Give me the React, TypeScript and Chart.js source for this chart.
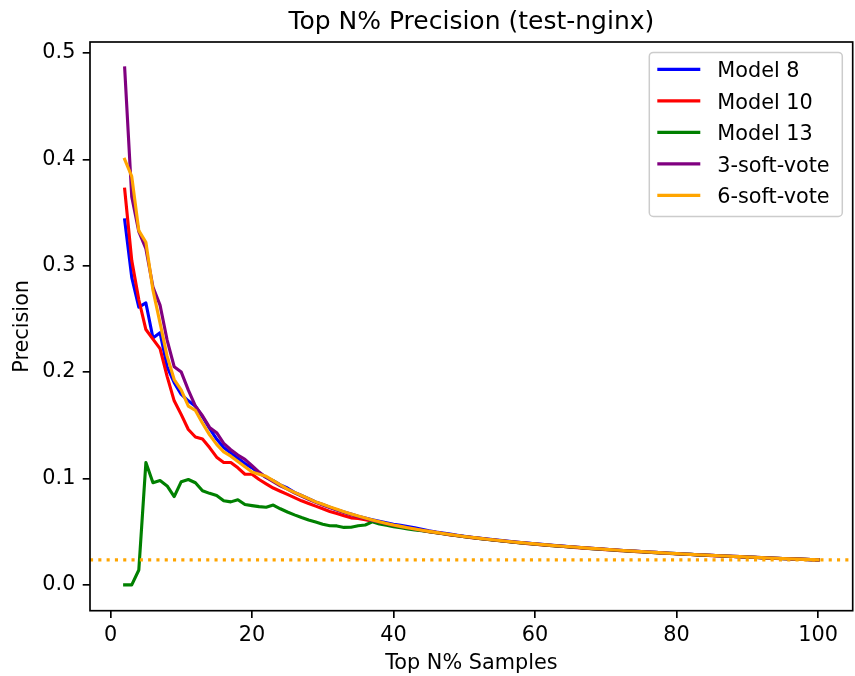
import React, { useEffect, useRef } from "react";
import { Chart, registerables } from "chart.js";

Chart.register(...registerables);

const TITLE = "Top N% Precision (test-nginx)";
const X_LABEL = "Top N% Samples";
const Y_LABEL = "Precision";

const topPercent = [
  2, 3, 4, 5, 6, 7, 8, 9, 10, 11, 12, 13, 14, 15, 16, 17, 18, 19, 20, 21,
  22, 23, 24, 25, 26, 27, 28, 29, 30, 31, 32, 33, 34, 35, 36, 37, 38, 39, 40, 41,
  42, 43, 44, 45, 46, 47, 48, 49, 50, 51, 52, 53, 54, 55, 56, 57, 58, 59, 60, 61,
  62, 63, 64, 65, 66, 67, 68, 69, 70, 71, 72, 73, 74, 75, 76, 77, 78, 79, 80, 81,
  82, 83, 84, 85, 86, 87, 88, 89, 90, 91, 92, 93, 94, 95, 96, 97, 98, 99, 100,
];

const model8 = [
  0.343, 0.289, 0.261, 0.265, 0.232, 0.237, 0.205, 0.190, 0.179, 0.173,
  0.168, 0.158, 0.147, 0.137, 0.129, 0.124, 0.119, 0.114, 0.110, 0.105,
  0.101, 0.098, 0.094, 0.091, 0.087, 0.084, 0.081, 0.078, 0.0755, 0.073,
  0.0705, 0.0685, 0.0665, 0.0645, 0.0628, 0.0612, 0.0597, 0.0583, 0.0570, 0.0559,
  0.0548, 0.0536, 0.0522, 0.0508, 0.0496, 0.0486, 0.0477, 0.0467, 0.0457, 0.0448,
  0.0440, 0.0432, 0.0425, 0.0418, 0.0411, 0.0404, 0.0398, 0.0392, 0.0386, 0.0380,
  0.0374, 0.0369, 0.0364, 0.0358, 0.0353, 0.0348, 0.0343, 0.0339, 0.0334, 0.0330,
  0.0325, 0.0321, 0.0317, 0.0313, 0.0309, 0.0305, 0.0301, 0.0297, 0.0294, 0.0290,
  0.0287, 0.0283, 0.0280, 0.0277, 0.0274, 0.0271, 0.0268, 0.0265, 0.0262, 0.0259,
  0.0256, 0.0253, 0.0250, 0.0248, 0.0245, 0.0242, 0.0240, 0.0237, 0.0235,
];

const model10 = [
  0.372, 0.305, 0.268, 0.240, 0.231, 0.222, 0.196, 0.173, 0.160, 0.146,
  0.139, 0.137, 0.129, 0.120, 0.115, 0.115, 0.110, 0.104, 0.104, 0.099,
  0.095, 0.091, 0.088, 0.085, 0.082, 0.079, 0.0765, 0.074, 0.0715, 0.069,
  0.067, 0.065, 0.063, 0.0625, 0.0612, 0.0598, 0.0585, 0.0572, 0.0558, 0.0546,
  0.0534, 0.0522, 0.0511, 0.0500, 0.0490, 0.0480, 0.0470, 0.0461, 0.0452, 0.0444,
  0.0436, 0.0428, 0.0421, 0.0414, 0.0407, 0.0400, 0.0394, 0.0388, 0.0382, 0.0376,
  0.0370, 0.0365, 0.0360, 0.0355, 0.0350, 0.0345, 0.0340, 0.0336, 0.0331, 0.0327,
  0.0322, 0.0318, 0.0314, 0.0310, 0.0306, 0.0302, 0.0299, 0.0295, 0.0292, 0.0288,
  0.0285, 0.0281, 0.0278, 0.0275, 0.0272, 0.0269, 0.0266, 0.0263, 0.0260, 0.0258,
  0.0255, 0.0252, 0.0249, 0.0247, 0.0244, 0.0242, 0.0239, 0.0237, 0.0235,
];

const model13 = [
  0.000, 0.000, 0.014, 0.115, 0.096, 0.098, 0.093, 0.083, 0.097, 0.099,
  0.096, 0.0885, 0.086, 0.084, 0.079, 0.078, 0.080, 0.0755, 0.0745, 0.0735,
  0.073, 0.075, 0.0715, 0.0685, 0.0658, 0.0633, 0.061, 0.059, 0.057, 0.0556,
  0.0554, 0.0540, 0.0542, 0.0556, 0.0563, 0.0592, 0.0572, 0.0560, 0.0547, 0.0536,
  0.0525, 0.0515, 0.0508, 0.0500, 0.0490, 0.0481, 0.0471, 0.0462, 0.0453, 0.0445,
  0.0437, 0.0429, 0.0422, 0.0415, 0.0408, 0.0401, 0.0395, 0.0389, 0.0383, 0.0377,
  0.0371, 0.0366, 0.0361, 0.0356, 0.0351, 0.0346, 0.0341, 0.0337, 0.0332, 0.0328,
  0.0323, 0.0319, 0.0315, 0.0311, 0.0307, 0.0303, 0.0300, 0.0296, 0.0293, 0.0289,
  0.0286, 0.0282, 0.0279, 0.0276, 0.0273, 0.0270, 0.0267, 0.0264, 0.0261, 0.0258,
  0.0255, 0.0252, 0.0250, 0.0247, 0.0245, 0.0242, 0.0240, 0.0237, 0.0235,
];

const softVote3 = [
  0.486, 0.365, 0.332, 0.316, 0.280, 0.263, 0.230, 0.205, 0.200, 0.183,
  0.168, 0.159, 0.148, 0.143, 0.133, 0.127, 0.122, 0.118, 0.112, 0.106,
  0.101, 0.097, 0.093, 0.090, 0.0865, 0.0835, 0.0805, 0.0775, 0.075, 0.0726,
  0.0703, 0.0681, 0.0660, 0.0641, 0.0623, 0.0606, 0.0590, 0.0575, 0.0561, 0.0549,
  0.0537, 0.0525, 0.0514, 0.0503, 0.0493, 0.0483, 0.0473, 0.0464, 0.0455, 0.0447,
  0.0439, 0.0431, 0.0424, 0.0417, 0.0410, 0.0403, 0.0397, 0.0391, 0.0385, 0.0379,
  0.0373, 0.0368, 0.0363, 0.0358, 0.0353, 0.0348, 0.0343, 0.0339, 0.0334, 0.0330,
  0.0325, 0.0321, 0.0317, 0.0313, 0.0309, 0.0305, 0.0301, 0.0297, 0.0294, 0.0290,
  0.0287, 0.0283, 0.0280, 0.0277, 0.0274, 0.0271, 0.0268, 0.0265, 0.0262, 0.0259,
  0.0256, 0.0253, 0.0250, 0.0248, 0.0245, 0.0242, 0.0240, 0.0237, 0.0235,
];

const softVote6 = [
  0.400, 0.384, 0.333, 0.322, 0.277, 0.246, 0.215, 0.193, 0.183, 0.168,
  0.164, 0.152, 0.141, 0.132, 0.125, 0.121, 0.116, 0.111, 0.106, 0.104,
  0.102, 0.098, 0.094, 0.090, 0.087, 0.084, 0.081, 0.078, 0.0757, 0.0733,
  0.0710, 0.0688, 0.0667, 0.0647, 0.0628, 0.0610, 0.0593, 0.0577, 0.0562, 0.0550,
  0.0537, 0.0525, 0.0514, 0.0503, 0.0493, 0.0483, 0.0473, 0.0464, 0.0455, 0.0447,
  0.0439, 0.0431, 0.0424, 0.0417, 0.0410, 0.0403, 0.0397, 0.0391, 0.0385, 0.0379,
  0.0373, 0.0368, 0.0363, 0.0358, 0.0353, 0.0348, 0.0343, 0.0339, 0.0334, 0.0330,
  0.0325, 0.0321, 0.0317, 0.0313, 0.0309, 0.0305, 0.0301, 0.0297, 0.0294, 0.0290,
  0.0287, 0.0283, 0.0280, 0.0277, 0.0274, 0.0271, 0.0268, 0.0265, 0.0262, 0.0259,
  0.0256, 0.0253, 0.0250, 0.0248, 0.0245, 0.0242, 0.0240, 0.0237, 0.0235,
];

const baselinePrecision = 0.0235;

const seriesNames = ["Model 8", "Model 10", "Model 13", "3-soft-vote", "6-soft-vote"];
const seriesColors = ["#0000ff", "#ff0000", "#008000", "#800080", "#ffa500"];
const seriesValues = [model8, model10, model13, softVote3, softVote6];

const xTickValues = [0, 20, 40, 60, 80, 100];
const xTickLabels = ["0", "20", "40", "60", "80", "100"];
const yTickValues = [0, 0.1, 0.2, 0.3, 0.4, 0.5];
const yTickLabels = ["0.0", "0.1", "0.2", "0.3", "0.4", "0.5"];

const X_MIN = -2.9;
const X_MAX = 104.9;
const Y_MIN = -0.0243;
const Y_MAX = 0.5103;

const FONT = '"DejaVu Sans", sans-serif';
const LW = 3.125;

const decor = {
  id: "decor",
  afterDraw(chart: any) {
    const { ctx, chartArea: a } = chart;
    ctx.save();
    ctx.strokeStyle = "#000";
    ctx.lineWidth = 1.67;
    ctx.strokeRect(a.left, a.top, a.right - a.left, a.bottom - a.top);

    ctx.fillStyle = "#000";
    ctx.textAlign = "center";
    ctx.textBaseline = "alphabetic";
    ctx.font = `25px ${FONT}`;
    ctx.fillText(TITLE, (a.left + a.right) / 2, 28.5);
    ctx.font = `20.8px ${FONT}`;
    ctx.fillText(X_LABEL, (a.left + a.right) / 2, 669);
    ctx.save();
    ctx.translate(28, (a.top + a.bottom) / 2);
    ctx.rotate(-Math.PI / 2);
    ctx.fillText(Y_LABEL, 0, 0);
    ctx.restore();

    // legend
    const w = 193;
    const h = 164;
    const bx = a.right - 10.4 - w;
    const by = a.top + 10.4;
    const r = 4;
    ctx.beginPath();
    ctx.moveTo(bx + r, by);
    ctx.lineTo(bx + w - r, by);
    ctx.arcTo(bx + w, by, bx + w, by + r, r);
    ctx.lineTo(bx + w, by + h - r);
    ctx.arcTo(bx + w, by + h, bx + w - r, by + h, r);
    ctx.lineTo(bx + r, by + h);
    ctx.arcTo(bx, by + h, bx, by + h - r, r);
    ctx.lineTo(bx, by + r);
    ctx.arcTo(bx, by, bx + r, by, r);
    ctx.closePath();
    ctx.fillStyle = "rgba(255,255,255,0.8)";
    ctx.fill();
    ctx.strokeStyle = "#cccccc";
    ctx.lineWidth = 1.5;
    ctx.stroke();

    ctx.textAlign = "left";
    ctx.font = `20.8px ${FONT}`;
    seriesNames.forEach((name, i) => {
      const cy = by + 17 + i * 31.5;
      ctx.beginPath();
      ctx.strokeStyle = seriesColors[i];
      ctx.lineWidth = LW;
      ctx.lineCap = "butt";
      ctx.moveTo(bx + 8, cy);
      ctx.lineTo(bx + 51, cy);
      ctx.stroke();
      ctx.fillStyle = "#000";
      ctx.fillText(name, bx + 68, cy + 7.8);
    });
    ctx.restore();
  },
};

export default function App() {
  const ref = useRef<HTMLCanvasElement>(null);
  useEffect(() => {
    const datasets: any[] = seriesNames.map((name, i) => ({
      label: name,
      data: topPercent.map((x, j) => ({ x, y: seriesValues[i][j] })),
      borderColor: seriesColors[i],
      backgroundColor: seriesColors[i],
      borderWidth: LW,
      pointRadius: 0,
      tension: 0,
      fill: false,
      borderJoinStyle: "round",
      borderCapStyle: "square",
      order: seriesNames.length - 1 - i,
    }));
    datasets.push({
      label: "baseline",
      data: [
        { x: X_MIN, y: baselinePrecision },
        { x: X_MAX, y: baselinePrecision },
      ],
      borderColor: "#ffa500",
      borderWidth: LW,
      borderDash: [3.1, 5.2],
      borderCapStyle: "butt",
      pointRadius: 0,
      fill: false,
      order: -1,
    });

    const chart = new Chart(ref.current!, {
      type: "line",
      data: { datasets },
      options: {
        animation: false,
        responsive: false,
        devicePixelRatio: 1,
        layout: { padding: { top: 42, right: 2.3, left: 0, bottom: 0 } },
        plugins: {
          legend: { display: false },
          title: { display: false },
          tooltip: { enabled: false },
        },
        scales: {
          x: {
            type: "linear",
            min: X_MIN,
            max: X_MAX,
            afterBuildTicks: (s: any) => {
              s.ticks = xTickValues.map((v) => ({ value: v }));
            },
            afterFit: (s: any) => {
              s.height = 65.3;
            },
            grid: {
              drawOnChartArea: false,
              drawTicks: true,
              tickLength: 7.3,
              color: "#000",
              lineWidth: 1.67,
            },
            border: { display: false },
            ticks: {
              color: "#000",
              font: { family: FONT, size: 20.8 },
              padding: 5,
              maxRotation: 0,
              autoSkip: false,
              callback: (_v: any, i: number) => xTickLabels[i],
            },
          },
          y: {
            type: "linear",
            min: Y_MIN,
            max: Y_MAX,
            afterBuildTicks: (s: any) => {
              s.ticks = yTickValues.map((v) => ({ value: v }));
            },
            afterFit: (s: any) => {
              s.width = 90;
            },
            grid: {
              drawOnChartArea: false,
              drawTicks: true,
              tickLength: 7.3,
              color: "#000",
              lineWidth: 1.67,
            },
            border: { display: false },
            ticks: {
              color: "#000",
              font: { family: FONT, size: 20.8 },
              padding: 7.3,
              autoSkip: false,
              callback: (_v: any, i: number) => yTickLabels[i],
            },
          },
        },
      } as any,
      plugins: [decor],
    });
    return () => chart.destroy();
  }, []);

  return (
    <canvas
      ref={ref}
      width={855}
      height={676}
      style={{ position: "absolute", left: 0, top: 0, width: 855, height: 676, display: "block" }}
    />
  );
}
